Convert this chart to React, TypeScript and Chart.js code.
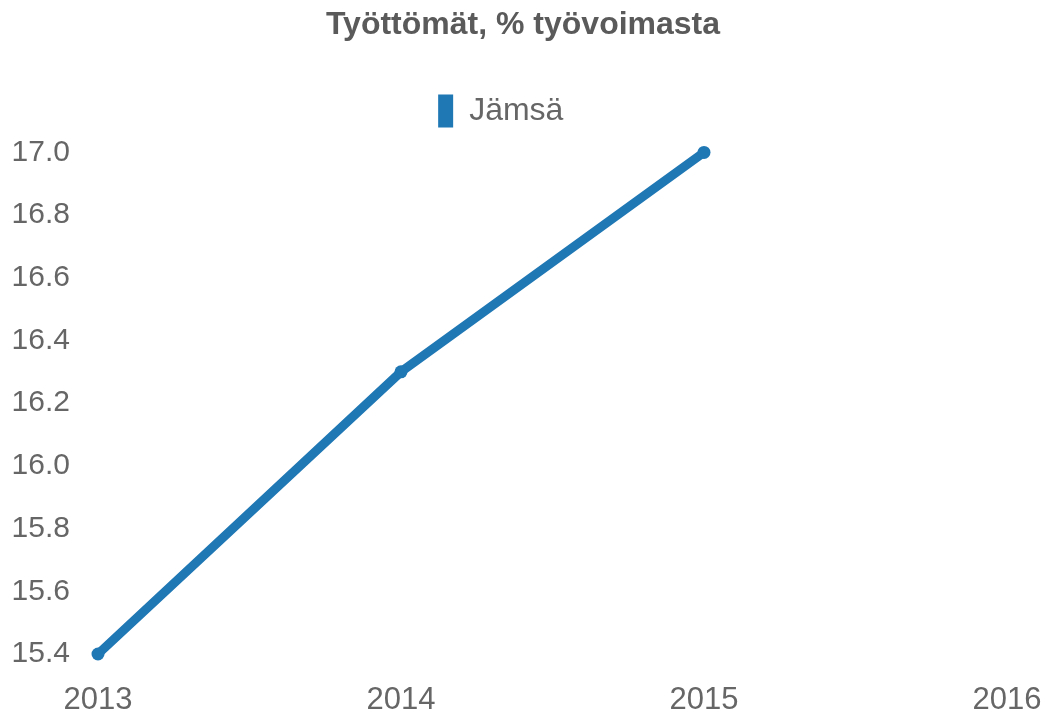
import React, { useEffect, useRef } from "react";
import { Chart, registerables } from "chart.js";

Chart.register(...registerables);

const years = ["2013", "2014", "2015", "2016"];
const jamsaValues: (number | null)[] = [15.4, 16.3, 17.0, null];
const seriesLabel = "Jämsä";
const chartTitle = "Työttömät, % työvoimasta";

const FONT = "'Liberation Sans', Arial, Helvetica, sans-serif";
const LINE_COLOR = "#1f77b4";

export default function App() {
  const ref = useRef<HTMLCanvasElement | null>(null);

  useEffect(() => {
    document.body.style.margin = "0";
    if (!ref.current) return;
    const legendMargin = {
      id: "legendMargin",
      beforeInit(chart: any) {
        const origFit = chart.legend.fit;
        chart.legend.fit = function () {
          origFit.bind(this)();
          this.height += 15;
        };
      },
    };
    const chart = new Chart(ref.current, {
      type: "line",
      data: {
        labels: years,
        datasets: [
          {
            label: seriesLabel,
            data: jamsaValues,
            borderColor: LINE_COLOR,
            backgroundColor: LINE_COLOR,
            borderWidth: 9,
            pointRadius: 6.5,
            pointBorderWidth: 0,
            pointBackgroundColor: LINE_COLOR,
            tension: 0,
            spanGaps: false,
            clip: false,
          },
        ],
      },
      plugins: [legendMargin],
      options: {
        animation: false,
        responsive: true,
        maintainAspectRatio: false,
        layout: { padding: { left: 0, right: 0, top: 0, bottom: 0 } },
        plugins: {
          title: {
            display: true,
            text: chartTitle,
            color: "#5a5a5a",
            font: { family: FONT, size: 32, weight: "bold" },
            padding: { top: 6, bottom: 40 },
          },
          legend: {
            display: true,
            labels: {
              boxWidth: 15,
              boxHeight: 33,
              color: "#666",
              font: { family: FONT, size: 32 },
              padding: 10,
              generateLabels: (chart: any) => {
                const items = Chart.defaults.plugins.legend.labels.generateLabels(chart);
                return items.map((it: any) => ({ ...it, text: it.text + "\u00a0\u00a0\u00a0\u00a0\u00a0", lineWidth: 0 }));
              },
            },
          },
          tooltip: { enabled: false },
        },
        scales: {
          x: {
            offset: false,
            grid: { display: false, drawTicks: false },
            border: { display: false },
            ticks: {
              color: "#666",
              font: { family: FONT, size: 31 },
              padding: 28,
              maxRotation: 0,
            },
            afterFit: (scale: any) => {
              scale.height = 65;
              scale.paddingRight = 39;
              scale.paddingLeft = 0;
            },
          },
          y: {
            min: 15.4,
            max: 17.0,
            grid: { display: false, drawTicks: false },
            border: { display: false },
            ticks: {
              stepSize: 0.2,
              color: "#666",
              font: { family: FONT, size: 30 },
              padding: 28,
              callback: (v: any) => Number(v).toFixed(1),
            },
            afterFit: (scale: any) => {
              scale.width = 98;
            },
          },
        },
      },
    });
    return () => chart.destroy();
  }, []);

  return (
    <div style={{ width: 1046, height: 719, position: "relative" }}>
      <canvas ref={ref} />
    </div>
  );
}
